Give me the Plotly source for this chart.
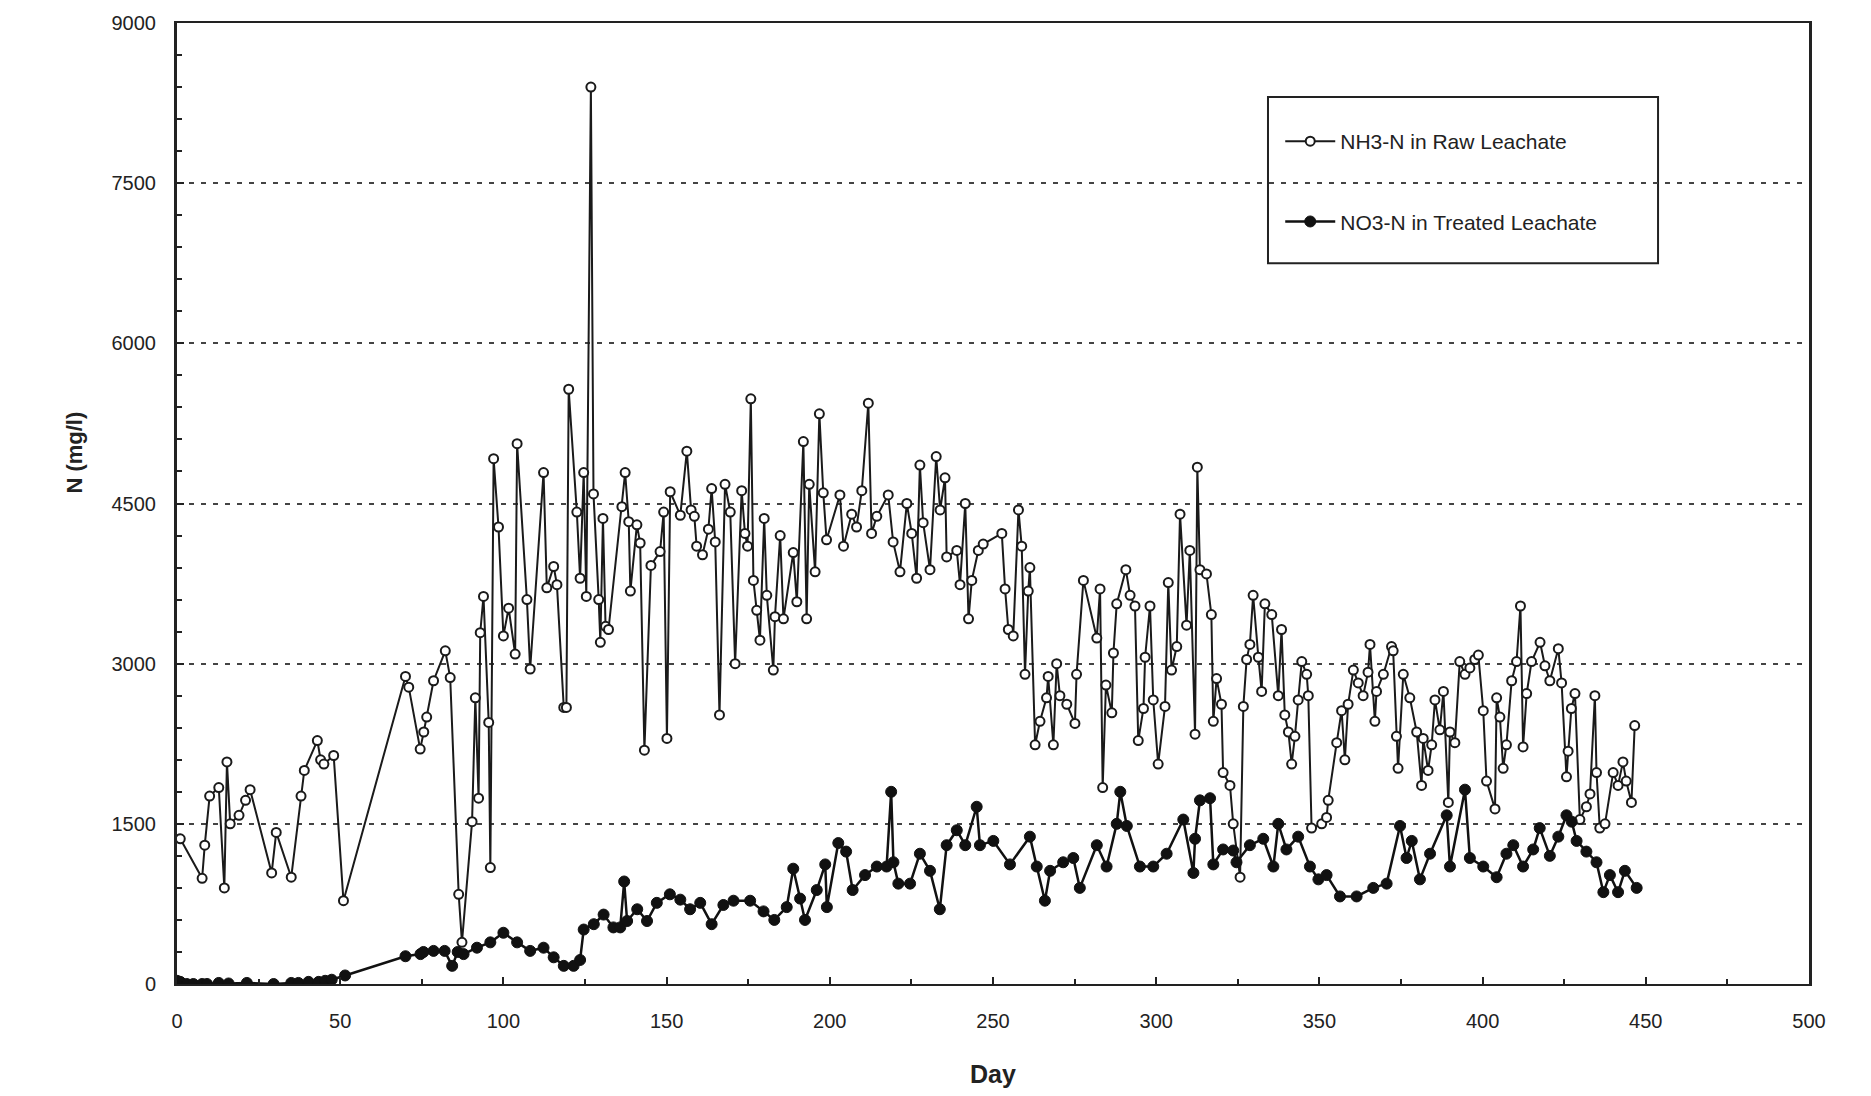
import plotly.graph_objects as go

nh3_day = [1, 7.7, 8.5, 10, 12.8, 14.5, 15.3, 16.3, 19, 21, 22.4, 29, 30.4, 35, 38, 39, 43, 44, 45, 48, 51,
           70, 71, 74.5, 75.6, 76.5, 78.6, 82.2, 83.7, 86.3, 87.3, 90.4, 91.4, 92.4, 92.9, 93.9, 95.5, 96, 97,
           98.5, 100, 101.6, 103.6, 104.2, 107.2, 108.2, 112.3, 113.3, 115.4, 116.4, 118.5, 119.3, 120, 122.5,
           123.5, 124.6, 125.4, 126.8, 127.6, 129.2, 129.7, 130.5, 131.3, 132.2, 136.3, 137.3, 138.4, 138.9,
           140.9, 141.9, 143.2, 145.2, 148, 149.1, 150.1, 151.1, 154.2, 156.2, 157.5, 158.5, 159.2, 161, 162.8,
           163.8, 164.9, 166.2, 167.9, 169.5, 171, 173, 174, 174.8, 175.8, 176.6, 177.6, 178.6, 179.9, 180.7,
           182.7, 183.2, 184.8, 185.8, 188.8, 189.9, 191.9, 192.9, 193.7, 195.5, 196.8, 198, 199, 203.1, 204.2,
           206.7, 208.2, 209.8, 211.8, 212.8, 214.4, 217.9, 219.4, 221.5, 223.6, 225.1, 226.6, 227.6, 228.6,
           230.7, 232.6, 233.8, 235.3, 235.8, 238.9, 239.9, 241.5, 242.5, 243.5, 245.5, 247, 252.7, 253.7,
           254.7, 256.2, 257.8, 258.8, 259.8, 260.8, 261.3, 262.9, 264.4, 266.4, 266.9, 268.5, 269.5, 270.5,
           272.6, 275.1, 275.6, 277.7, 281.8, 282.8, 283.6, 284.6, 286.4, 286.9, 287.9, 290.7, 292, 293.5,
           294.5, 296.1, 296.6, 298.1, 299.1, 300.6, 302.7, 303.7, 304.7, 306.3, 307.3, 309.3, 310.3, 311.9,
           312.6, 313.4, 315.4, 316.9, 317.5, 318.5, 320, 320.5, 322.6, 323.6, 325.7, 326.7, 327.7, 328.7,
           329.7, 331.3, 332.3, 333.3, 335.4, 337.4, 338.4, 339.4, 340.5, 341.5, 342.5, 343.5, 344.6, 346.1,
           346.6, 347.6, 350.7, 352.2, 352.7, 355.3, 356.8, 357.8, 358.8, 360.4, 361.9, 363.4, 364.9, 365.5,
           367, 367.5, 369.6, 372.1, 372.6, 373.6, 374.1, 375.7, 377.7, 379.8, 381.3, 381.8, 383.3, 384.4,
           385.4, 386.9, 388, 389.5, 390, 391.5, 393, 394.6, 396.1, 397.6, 398.7, 400.2, 401.2, 403.8, 404.3,
           405.3, 406.3, 407.3, 408.9, 410.4, 411.6, 412.4, 413.5, 415, 417.6, 419.1, 420.6, 423.2, 424.2,
           425.7, 426.2, 427.2, 428.3, 429.8, 431.8, 432.9, 434.4, 434.9, 435.9, 437.5, 440, 441.5, 443, 444,
           445.6, 446.6]
nh3_val = [1360, 990, 1300, 1760, 1840, 900, 2080, 1500, 1580, 1720, 1820, 1040, 1420, 1000, 1760, 2000, 2280,
           2100, 2060, 2140, 780,
           2880, 2780, 2200, 2360, 2500, 2840, 3120, 2870, 840, 390, 1520, 2680, 1740, 3290, 3630, 2450, 1090,
           4920, 4280, 3260, 3520, 3090, 5060, 3600, 2950, 4790, 3710, 3910, 3740, 2590, 2590, 5570, 4420, 3800,
           4790, 3630, 8400, 4590, 3600, 3200, 4360, 3350, 3320, 4470, 4790, 4330, 3680, 4300, 4130, 2190, 3920,
           4050, 4420, 2300, 4610, 4390, 4990, 4440, 4380, 4100, 4020, 4260, 4640, 4140, 2520, 4680, 4420, 3000,
           4620, 4220, 4100, 5480, 3780, 3500, 3220, 4360, 3640, 2940, 3440, 4200, 3420, 4040, 3580, 5080, 3420,
           4680, 3860, 5340, 4600, 4160, 4580, 4100, 4400, 4280, 4620, 5440, 4220, 4380, 4580, 4140, 3860, 4500,
           4220, 3800, 4860, 4320, 3880, 4940, 4440, 4740, 4000, 4060, 3740, 4500, 3420, 3780, 4060, 4120, 4220,
           3700, 3320, 3260, 4440, 4100, 2900, 3680, 3900, 2240, 2460, 2680, 2880, 2240, 3000, 2700, 2620, 2440,
           2900, 3780, 3240, 3700, 1840, 2800, 2540, 3100, 3560, 3880, 3640, 3540, 2280, 2580, 3060, 3540, 2660,
           2060, 2600, 3760, 2940, 3160, 4400, 3360, 4060, 2340, 4840, 3880, 3840, 3460, 2460, 2860, 2620, 1980,
           1860, 1500, 1000, 2600, 3040, 3180, 3640, 3060, 2740, 3560, 3460, 2700, 3320, 2520, 2360, 2060, 2320,
           2660, 3020, 2900, 2700, 1460, 1500, 1560, 1720, 2260, 2560, 2100, 2620, 2940, 2820, 2700, 2920, 3180,
           2460, 2740, 2900, 3160, 3120, 2320, 2020, 2900, 2680, 2360, 1860, 2300, 2000, 2240, 2660, 2380, 2740,
           1700, 2360, 2260, 3020, 2900, 2960, 3040, 3080, 2560, 1900, 1640, 2680, 2500, 2020, 2240, 2840, 3020,
           3540, 2220, 2720, 3020, 3200, 2980, 2840, 3140, 2820, 1940, 2180, 2580, 2720, 1540, 1660, 1780, 2700,
           1980, 1460, 1500, 1980, 1860, 2080, 1900, 1700, 2420]

no3_day = [0, 1, 3, 5, 7.7, 9.2, 12.8, 15.8, 21.4, 29.6, 35, 37.2, 40.3, 43.4, 45.4, 47.4, 51.5, 70, 74.6,
           75.5, 78.6, 82, 84.3, 86, 87.8, 91.9, 96, 100, 104.2, 108.2, 112.3, 115.4, 118.5, 121.5, 123.5,
           124.6, 127.7, 130.7, 133.7, 135.8, 137, 137.9, 141, 144, 147, 151, 154.2, 157.2, 160.3, 163.8,
           167.4, 170.5, 175.6, 179.7, 183, 186.8, 188.8, 190.9, 192.4, 196, 198.6, 199.1, 202.6, 205, 207,
           210.8, 214.4, 217.4, 218.8, 219.5, 221, 224.6, 227.6, 230.7, 233.7, 235.8, 238.9, 241.5, 245, 246,
           250.1, 255.2, 261.3, 263.4, 265.9, 267.5, 271.5, 274.6, 276.6, 281.8, 284.8, 287.9, 289, 291, 295,
           299.1, 303.2, 308.3, 311.4, 311.9, 313.4, 316.5, 317.5, 320.5, 323.6, 324.6, 328.7, 332.8, 335.9,
           337.4, 339.9, 343.5, 347.1, 349.7, 352.2, 356.3, 361.4, 366.5, 370.6, 374.7, 376.7, 378.3, 380.8,
           383.9, 389, 390, 394.6, 396.1, 400.2, 404.3, 407.3, 409.4, 412.4, 415.5, 417.5, 420.6, 423.2, 425.7,
           427.3, 428.8, 431.8, 434.9, 437, 439, 441.5, 443.6, 447.2]
no3_val = [30, 20, 0, 0, 0, 0, 10, 5, 10, 0, 10, 10, 20, 20, 30, 40, 80, 260, 280,
           300, 310, 310, 170, 300, 280, 340, 390, 480, 390, 310, 340, 250, 170, 170, 225,
           510, 560, 650, 530, 530, 960, 590, 700, 590, 760, 840, 790, 700, 760, 560,
           740, 780, 780, 680, 600, 720, 1080, 800, 600, 880, 1120, 720, 1320, 1240, 880,
           1020, 1100, 1100, 1800, 1140, 940, 940, 1220, 1060, 700, 1300, 1440, 1300, 1660, 1300,
           1340, 1120, 1380, 1100, 780, 1060, 1140, 1180, 900, 1300, 1100, 1500, 1800, 1480, 1100,
           1100, 1220, 1540, 1040, 1360, 1720, 1740, 1120, 1260, 1250, 1140, 1300, 1360, 1100,
           1500, 1260, 1380, 1100, 980, 1020, 820, 820, 900, 940, 1480, 1180, 1340, 980,
           1220, 1580, 1100, 1820, 1180, 1100, 1000, 1220, 1300, 1100, 1260, 1460, 1200, 1380, 1580,
           1520, 1340, 1240, 1140, 860, 1020, 860, 1060, 900]

y_ticks = [0, 1500, 3000, 4500, 6000, 7500, 9000]
x_ticks = [0, 50, 100, 150, 200, 250, 300, 350, 400, 450, 500]

FONT = "Liberation Sans, Arial, sans-serif"

fig = go.Figure()
fig.add_trace(go.Scatter(
    x=nh3_day, y=nh3_val, mode="lines+markers", name="NH3-N in Raw Leachate",
    legendgroup="a",
    line=dict(color="#1a1a1a", width=2),
    marker=dict(symbol="circle", size=9, color="white", line=dict(color="#1a1a1a", width=2)),
))
fig.add_trace(go.Scatter(
    x=no3_day, y=no3_val, mode="lines+markers", name="NO3-N in Treated Leachate",
    legendgroup="b",
    line=dict(color="#111111", width=2.5),
    marker=dict(symbol="circle", size=11, color="#111111", line=dict(color="#111111", width=1)),
))

# legend frame
fig.add_shape(type="rect", xref="paper", yref="paper",
              x0=0.6685, x1=0.9075, y0=0.750, y1=0.923,
              line=dict(color="#222", width=2), fillcolor="white", layer="below")

fig.update_layout(
    width=1871, height=1096,
    margin=dict(l=177, r=62, t=23, b=112),
    paper_bgcolor="white", plot_bgcolor="white",
    font=dict(family=FONT, size=20, color="#222"),
    showlegend=True,
    legend=dict(x=0.676, y=0.898, xanchor="left", yanchor="top",
                bgcolor="rgba(0,0,0,0)", borderwidth=0,
                font=dict(family=FONT, size=21, color="#222"),
                traceorder="grouped", tracegroupgap=50, itemwidth=50),
    xaxis=dict(range=[0, 500], tickvals=x_ticks, ticks="inside", ticklen=7, tickwidth=2,
               tickcolor="#222", ticklabelstandoff=18,
               minor=dict(dtick=25, ticks="inside", ticklen=5, tickwidth=1.5, tickcolor="#222"),
               showgrid=False, zeroline=False, showline=True, linecolor="#222", linewidth=2,
               mirror=True,
               title=dict(text="<b>Day</b>", font=dict(size=25, family=FONT, color="#222"), standoff=34),
               tickfont=dict(size=20)),
    yaxis=dict(range=[0, 9000], tickvals=y_ticks, ticks="inside", ticklen=7, tickwidth=2,
               tickcolor="#222", ticklabelstandoff=14,
               minor=dict(dtick=300, ticks="inside", ticklen=5, tickwidth=1.5, tickcolor="#222"),
               showgrid=True, gridcolor="#444", gridwidth=2, griddash="5px,7px",
               zeroline=False, showline=True, linecolor="#222", linewidth=3, mirror=True,
               tickfont=dict(size=20)),
)

fig.add_annotation(text="<b>N (mg/l)</b>", xref="paper", yref="paper",
                   x=-0.0625, y=0.553, textangle=-90, showarrow=False,
                   xanchor="center", yanchor="middle",
                   font=dict(size=22, family=FONT, color="#222"))

fig.write_html("out.html")
